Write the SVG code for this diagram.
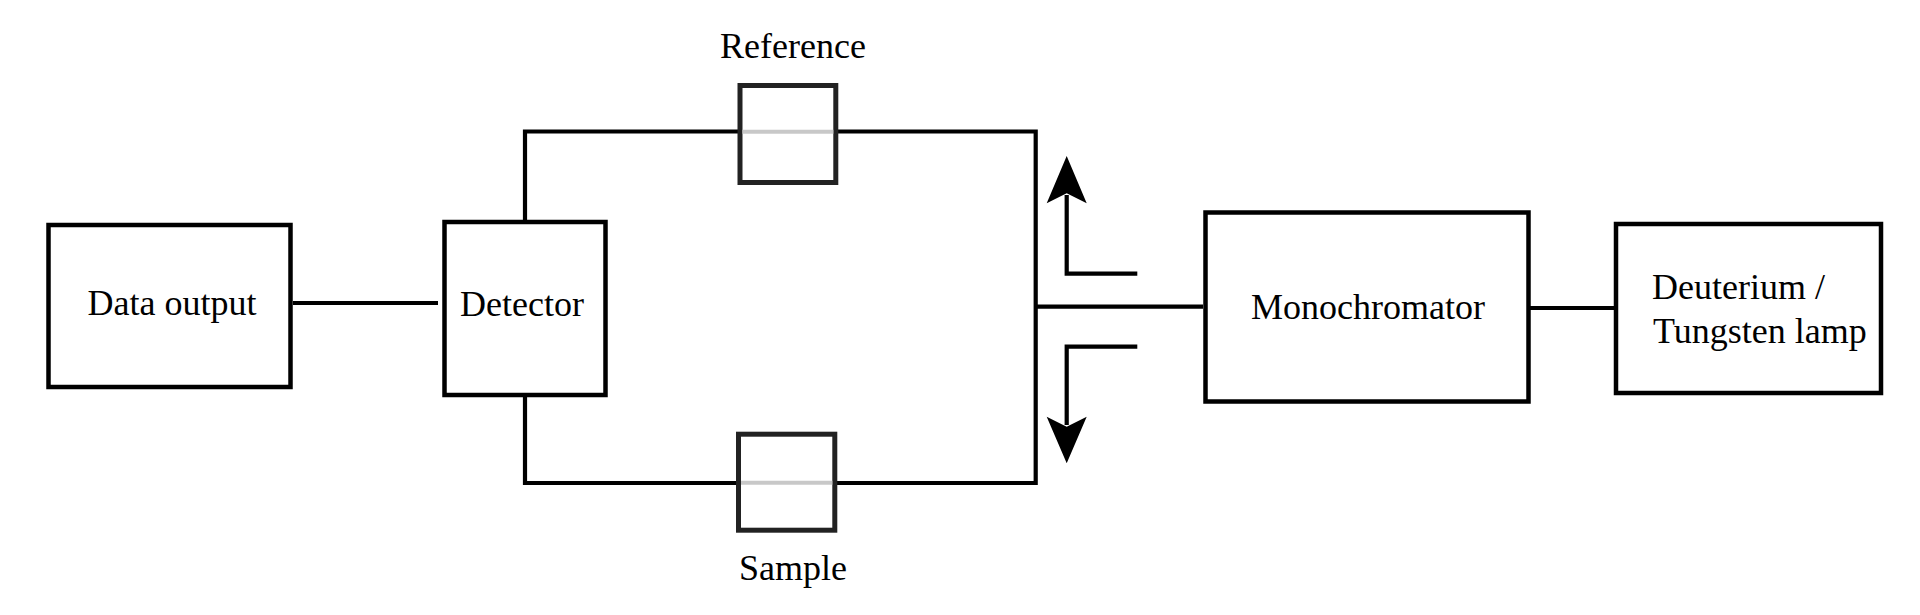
<svg xmlns="http://www.w3.org/2000/svg" width="1920" height="615" viewBox="0 0 1920 615">
<style>
.box{fill:#fff;stroke:#000;stroke-width:4.5}
.cell{fill:#fff;stroke:#222;stroke-width:5}
.ln{fill:none;stroke:#000;stroke-width:4.2}
.beam{stroke:#c8c8c8;stroke-width:4}
text{font-family:"Liberation Serif","Times New Roman",serif;font-size:36px;fill:#000}
.c{text-anchor:middle}
</style>
<rect width="1920" height="615" fill="#fff"/>
<g id="connectors">
<line class="ln" x1="293" y1="303" x2="438" y2="303"/>
<polyline class="ln" points="525,220 525,131.5 1035.7,131.5 1035.7,483 525,483 525,397"/>
<line class="ln" x1="1035.7" y1="306.7" x2="1203" y2="306.7"/>
<line class="ln" x1="1530" y1="308" x2="1614" y2="308"/>
<polyline class="ln" points="1137.3,273.7 1066.7,273.7 1066.7,195"/>
<polygon points="1066.7,156 1086.7,203.3 1066.7,193.3 1046.7,203.3" fill="#000"/>
<polyline class="ln" points="1137.3,346.7 1066.7,346.7 1066.7,425"/>
<polygon points="1066.7,463.3 1086.7,416.7 1066.7,426.7 1046.7,416.7" fill="#000"/>
</g>
<g id="data-output">
<rect class="box" x="48.5" y="225" width="242" height="162"/>
<text class="c" x="172" y="315">Data output</text>
</g>
<g id="detector">
<rect class="box" x="444.5" y="222" width="161" height="173"/>
<text class="c" x="522" y="316">Detector</text>
</g>
<g id="reference">
<rect class="cell" x="740" y="85.5" width="95.8" height="97"/>
<line class="beam" x1="742.5" y1="131.7" x2="833.3" y2="131.7"/>
<text class="c" x="793" y="58">Reference</text>
</g>
<g id="sample">
<rect class="cell" x="738.5" y="434.2" width="96.3" height="96"/>
<line class="beam" x1="741" y1="482.7" x2="832.3" y2="482.7"/>
<text class="c" x="793" y="580">Sample</text>
</g>
<g id="monochromator">
<rect class="box" x="1205.5" y="212.5" width="323" height="189"/>
<text class="c" x="1368" y="319">Monochromator</text>
</g>
<g id="lamp">
<rect class="box" x="1616" y="224" width="265" height="169"/>
<text x="1652" y="299">Deuterium /</text>
<text x="1653" y="343">Tungsten lamp</text>
</g>
</svg>
